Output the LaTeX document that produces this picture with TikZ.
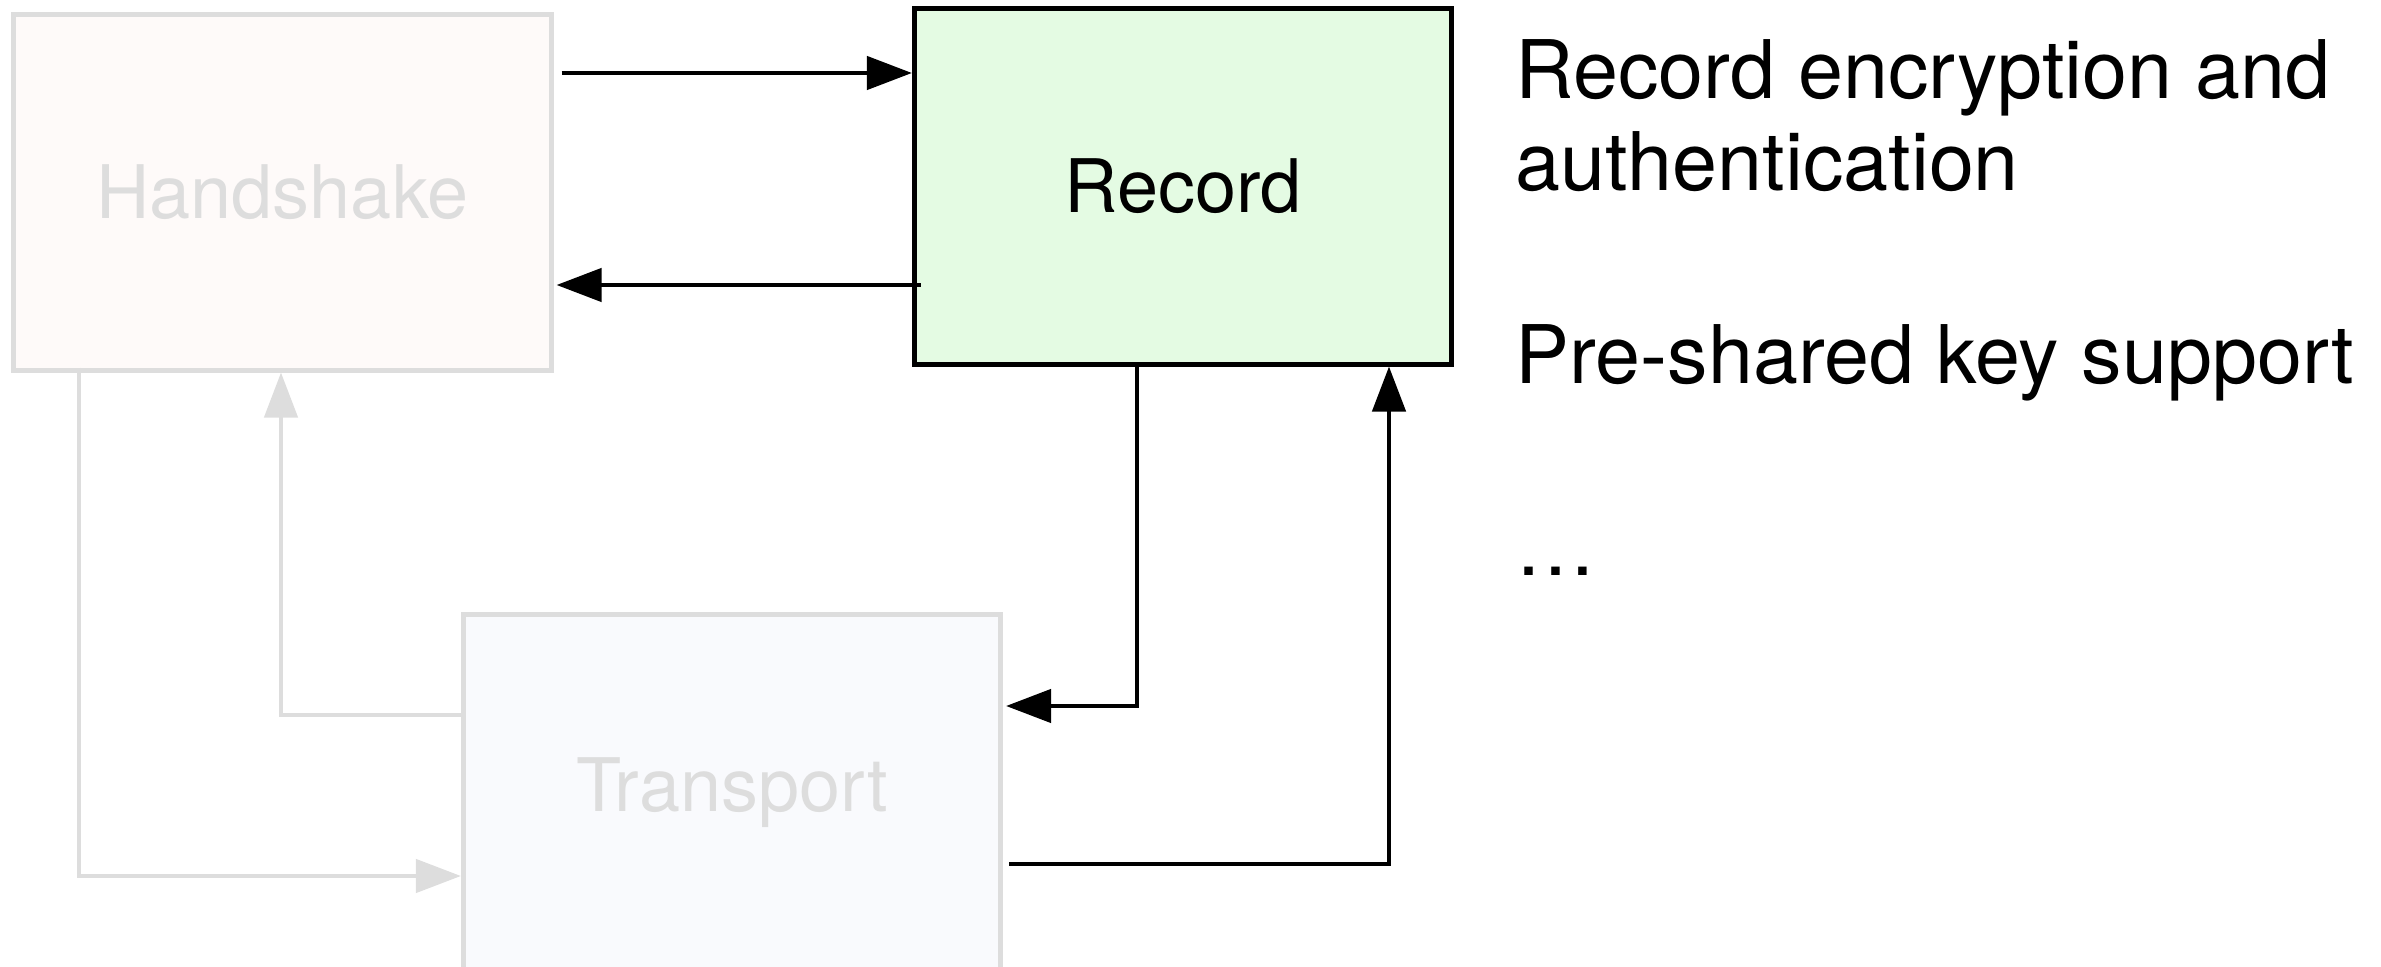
\documentclass[tikz,border=0pt]{standalone}
\usepackage{fontspec}
\setmainfont{TeX Gyre Heros}
\usepackage{xcolor}
\usetikzlibrary{arrows.meta, calc}
\definecolor{HSPink}{RGB}{254,250,249}
\definecolor{RecGreen}{RGB}{228,251,227}
\definecolor{TrBlue}{RGB}{249,250,253}
\definecolor{FadeGray}{RGB}{221,221,221}

\begin{document}
\begin{tikzpicture}[x=0.01cm, y=-0.01cm,
    layer/.style={rectangle, minimum width=5.37cm, minimum height=3.55cm,
                  line width=0.048cm, inner sep=0pt,
                  font=\fontsize{21}{25}\selectfont},
    faded/.style={layer, draw=FadeGray, text=FadeGray},
    feature/.style={anchor=base west, inner sep=0pt, font=\fontsize{23}{26}\selectfont},
    arr/.style={-{Triangle[length=0.45cm, width=0.33cm]}, line width=0.045cm, draw=black},
    farr/.style={arr, draw=FadeGray}
  ]
  \useasboundingbox (0,0) rectangle (2381,967);

  \node[faded, fill=HSPink]  (hand)  at (282.5,192.5) {Handshake};
  \node[layer, draw=black, fill=RecGreen] (rec) at (1183,186.5) {Record};
  \node[faded, fill=TrBlue]  (trans) at (732,792.5) {Transport};

  % what the record layer does
  \node[feature] (enc)  at (1515,99)  {Record encryption and};
  \node[feature] (auth) at (1515,191) {authentication};
  \node[feature] (psk)  at (1515,384) {Pre-shared key support};
  \node[feature] (more) at (1515,576) {…};

  % Handshake <-> Record
  \draw[arr] ($(hand.east |- 0,73)+(8,0)$) -- (rec.west |- 0,73);
  \draw[arr] ($(rec.west |- 0,285)+(9,0)$) -- ($(hand.east |- 0,285)+(3,0)$);

  % Record <-> Transport
  \draw[arr] ($(rec.south -| 1137,0)+(0,-3)$) |- ($(trans.east |- 0,706)+(3,0)$);
  \draw[arr] ($(trans.east |- 0,864)+(6,0)$) -| (rec.south -| 1389,0);

  % Handshake <-> Transport
  \draw[farr] ($(hand.south -| 79,0)+(0,-5)$) |- (trans.west |- 0,876);
  \draw[farr] (trans.west |- 0,715) -| (hand.south -| 281,0);
\end{tikzpicture}
\end{document}
